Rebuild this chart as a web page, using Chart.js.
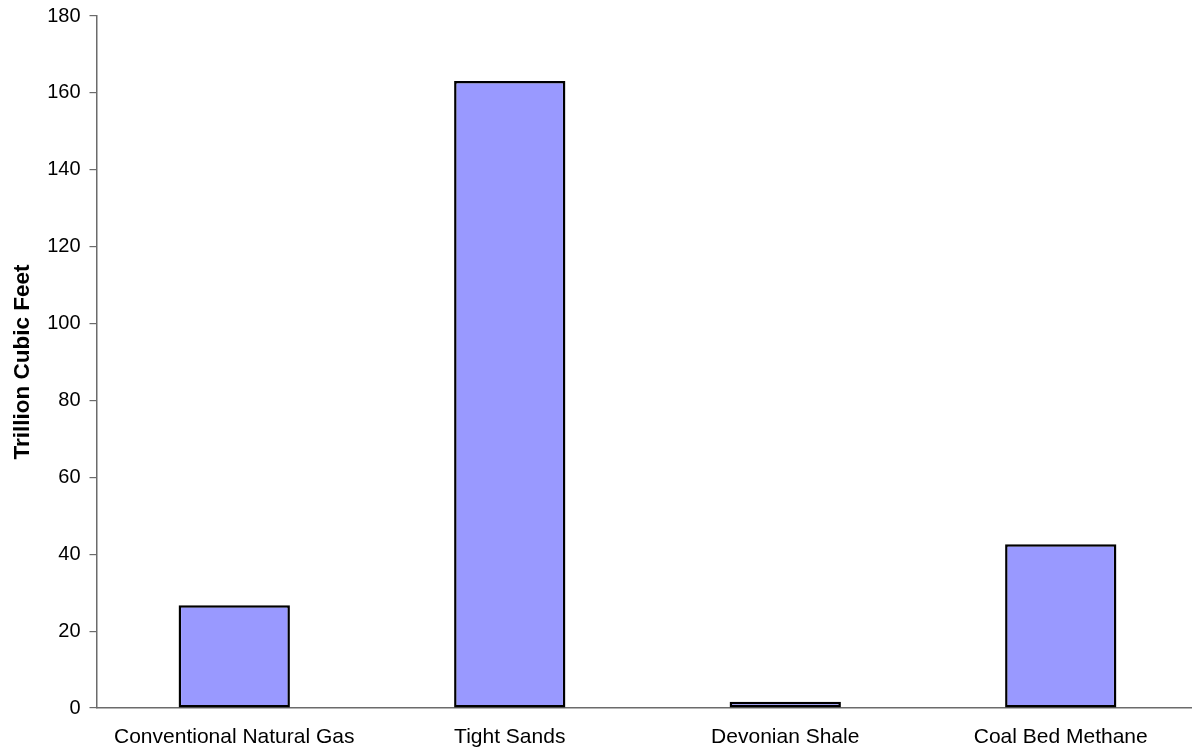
<!DOCTYPE html>
<html>
<head>
<meta charset="utf-8">
<script src="https://cdn.jsdelivr.net/npm/chart.js@4/dist/chart.umd.min.js"></script>
<style>
  html, body { margin: 0; padding: 0; background: #fff; overflow: hidden; }
  #wrap { position: relative; width: 1200px; height: 752px; }
</style>
</head>
<body>
<div id="wrap"><canvas id="chart"></canvas></div>
<script>
// Natural gas resource categories and volumes (trillion cubic feet)
const categories = ['Conventional Natural Gas', 'Tight Sands', 'Devonian Shale', 'Coal Bed Methane'];
const volumes = [26.7, 163.1, 1.6, 42.6];
const yTicks = [0, 20, 40, 60, 80, 100, 120, 140, 160, 180];

const AXIS = '#6b6b6b';
const FONT = "'Liberation Sans', Arial, sans-serif";

new Chart(document.getElementById('chart'), {
  type: 'bar',
  data: {
    labels: categories,
    datasets: [{
      data: volumes,
      backgroundColor: '#9999ff',
      borderColor: '#000000',
      borderWidth: 2.5,
      borderSkipped: false,
      barPercentage: 0.404,
      categoryPercentage: 1.0
    }]
  },
  options: {
    responsive: true,
    maintainAspectRatio: false,
    animation: false,
    devicePixelRatio: 1,
    layout: { padding: { top: 16, right: 1.5, bottom: 0, left: 0 } },
    plugins: {
      legend: { display: false },
      tooltip: { enabled: false }
    },
    scales: {
      x: {
        grid: { display: false, drawTicks: false },
        border: { display: true, color: AXIS, width: 1.5 },
        ticks: {
          padding: 17,
          color: '#000',
          maxRotation: 0,
          autoSkip: false,
          font: { family: FONT, size: 21 }
        },
        afterFit(scale) { scale.height = 44; }
      },
      y: {
        min: 0,
        max: 180,
        afterBuildTicks(scale) { scale.ticks = yTicks.map(v => ({ value: v })); },
        grid: {
          drawOnChartArea: false,
          drawTicks: true,
          tickLength: 7,
          color: AXIS,
          lineWidth: 1.2
        },
        border: { display: true, color: AXIS, width: 1.5 },
        ticks: {
          padding: 9,
          color: '#000',
          font: { family: FONT, size: 20 }
        },
        title: {
          display: true,
          text: 'Trillion Cubic Feet',
          color: '#000',
          padding: { top: 9, bottom: 0 },
          font: { family: FONT, size: 22.5, weight: 'bold' }
        },
        afterFit(scale) {
          scale.width = 96.5;
          scale.paddingTop = 0;
          scale.paddingBottom = 0;
        }
      }
    }
  }
});
</script>
</body>
</html>
